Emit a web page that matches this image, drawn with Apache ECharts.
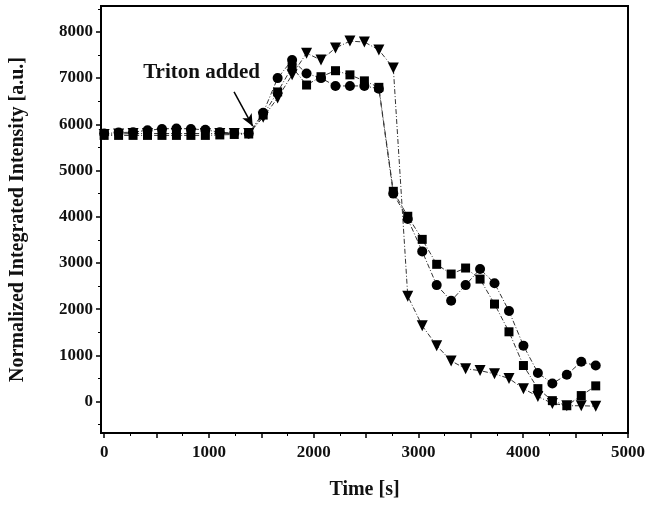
<!DOCTYPE html>
<html>
<head>
<meta charset="utf-8">
<script src="https://cdn.jsdelivr.net/npm/echarts@6/dist/echarts.min.js"></script>
<style>
  html, body { margin: 0; padding: 0; background: #fff; }
  #chart { width: 652px; height: 505px; }
</style>
</head>
<body>
<div id="chart"></div>
<script>
// time points [s] (one every ~138 s)
const times = [0, 138, 276, 414, 552, 690, 828, 966, 1104, 1242, 1380, 1518, 1656, 1794, 1932,
  2070, 2208, 2346, 2484, 2622, 2760, 2898, 3036, 3174, 3312, 3450, 3588, 3726, 3864, 4002,
  4140, 4278, 4416, 4554, 4692];

const squares = [5760, 5760, 5760, 5760, 5760, 5760, 5760, 5760, 5770, 5780, 5790, 6200, 6700, 7240, 6850,
  7030, 7160, 7070, 6940, 6800, 4550, 4010, 3510, 2970, 2760, 2890, 2650, 2110, 1510, 780,
  280, 20, -90, 130, 340];

const circles = [5800, 5820, 5830, 5870, 5900, 5910, 5900, 5880, 5830, 5810, 5800, 6250, 7000, 7390, 7100,
  7000, 6830, 6830, 6830, 6770, 4500, 3950, 3250, 2520, 2180, 2520, 2870, 2560, 1960, 1210,
  620, 390, 580, 860, 780];

const triangles = [5780, 5790, 5800, 5800, 5800, 5800, 5800, 5800, 5800, 5800, 5800, 6150, 6570, 7070, 7540,
  7390, 7650, 7800, 7780, 7610, 7220, 2280, 1640, 1210, 880, 710, 670, 600, 500, 280,
  110, -40, -90, -90, -100];

// tick positions
const xLabels = [0, 1000, 2000, 3000, 4000, 5000];
const xMajorTicks = [0, 500, 1000, 1500, 2000, 2500, 3000, 3500, 4000, 4500, 5000];
const xMinorTicks = [250, 750, 1250, 1750, 2250, 2750, 3250, 3750, 4250, 4750];
const yLabels = [0, 1000, 2000, 3000, 4000, 5000, 6000, 7000, 8000];
const yMajorTicks = [0, 1000, 2000, 3000, 4000, 5000, 6000, 7000, 8000];
const yMinorTicks = [-500, 500, 1500, 2500, 3500, 4500, 5500, 6500, 7500, 8500];

// annotation
const noteText = 'Triton added';
const notePos = [930, 7130];
const arrowFrom = [1240, 6700];
const arrowTo = [1418, 5960];

const pair = (ys) => times.map((t, i) => [t, ys[i]]);

const font = 'Liberation Serif';
const lineStyle = { color: '#333', width: 1, type: [5, 2, 1, 2] };
const plain = (v) => String(v);

const xRange = { min: -30, max: 5000 };
const yRange = { min: -680, max: 8560 };

const chart = echarts.init(document.getElementById('chart'));

chart.setOption({
  animation: false,
  grid: {
    left: 100, right: 24, top: 6, bottom: 71,
    show: true, borderColor: '#000', borderWidth: 2, backgroundColor: 'transparent'
  },
  xAxis: [
    {
      type: 'value', ...xRange, position: 'bottom',
      name: 'Time [s]', nameLocation: 'middle', nameGap: 47,
      nameTextStyle: { fontFamily: font, fontWeight: 'bold', fontSize: 20, color: '#111' },
      axisLine: { onZero: false, lineStyle: { color: '#000', width: 2 } },
      axisTick: { show: true, length: 5, inside: false, customValues: xMajorTicks, lineStyle: { color: '#000', width: 1.5 } },
      axisLabel: { customValues: xLabels, formatter: plain, margin: 11, fontFamily: font, fontWeight: 'bold', fontSize: 17, color: '#111' },
      splitLine: { show: false }
    },
    {
      type: 'value', ...xRange, position: 'bottom',
      axisLine: { show: false, onZero: false },
      axisTick: { show: true, length: 3, customValues: xMinorTicks, lineStyle: { color: '#000', width: 1 } },
      axisLabel: { show: false },
      splitLine: { show: false }
    }
  ],
  yAxis: [
    {
      type: 'value', ...yRange, position: 'left',
      name: 'Normalized Integrated Intensity [a.u.]', nameLocation: 'middle', nameGap: 73,
      nameTextStyle: { fontFamily: font, fontWeight: 'bold', fontSize: 20, color: '#111' },
      axisLine: { show: true, onZero: false, lineStyle: { color: '#000', width: 2 } },
      axisTick: { show: true, length: 5, customValues: yMajorTicks, lineStyle: { color: '#000', width: 1.5 } },
      axisLabel: { customValues: yLabels, formatter: plain, margin: 8, fontFamily: font, fontWeight: 'bold', fontSize: 17, color: '#111' },
      splitLine: { show: false }
    },
    {
      type: 'value', ...yRange, position: 'left',
      axisLine: { show: false, onZero: false },
      axisTick: { show: true, length: 3, customValues: yMinorTicks, lineStyle: { color: '#000', width: 1 } },
      axisLabel: { show: false },
      splitLine: { show: false }
    }
  ],
  series: [
    {
      type: 'line', data: pair(squares), symbol: 'rect', symbolSize: 9,
      itemStyle: { color: '#000' }, lineStyle
    },
    {
      type: 'line', data: pair(circles), symbol: 'circle', symbolSize: 10,
      itemStyle: { color: '#000' }, lineStyle
    },
    {
      type: 'line', data: pair(triangles), symbol: 'triangle', symbolSize: 11, symbolRotate: 180,
      itemStyle: { color: '#000' }, lineStyle,
      markPoint: {
        symbol: 'circle', symbolSize: 1, itemStyle: { color: 'transparent' },
        label: { show: true, formatter: noteText, fontFamily: font, fontWeight: 'bold', fontSize: 21, color: '#111' },
        data: [{ coord: notePos }]
      },
      markLine: {
        silent: true, symbol: ['none', 'arrow'], symbolSize: [8, 12],
        lineStyle: { color: '#000', width: 1.5, type: 'solid' },
        label: { show: false },
        data: [[{ coord: arrowFrom }, { coord: arrowTo }]]
      }
    }
  ]
});
</script>
</body>
</html>
